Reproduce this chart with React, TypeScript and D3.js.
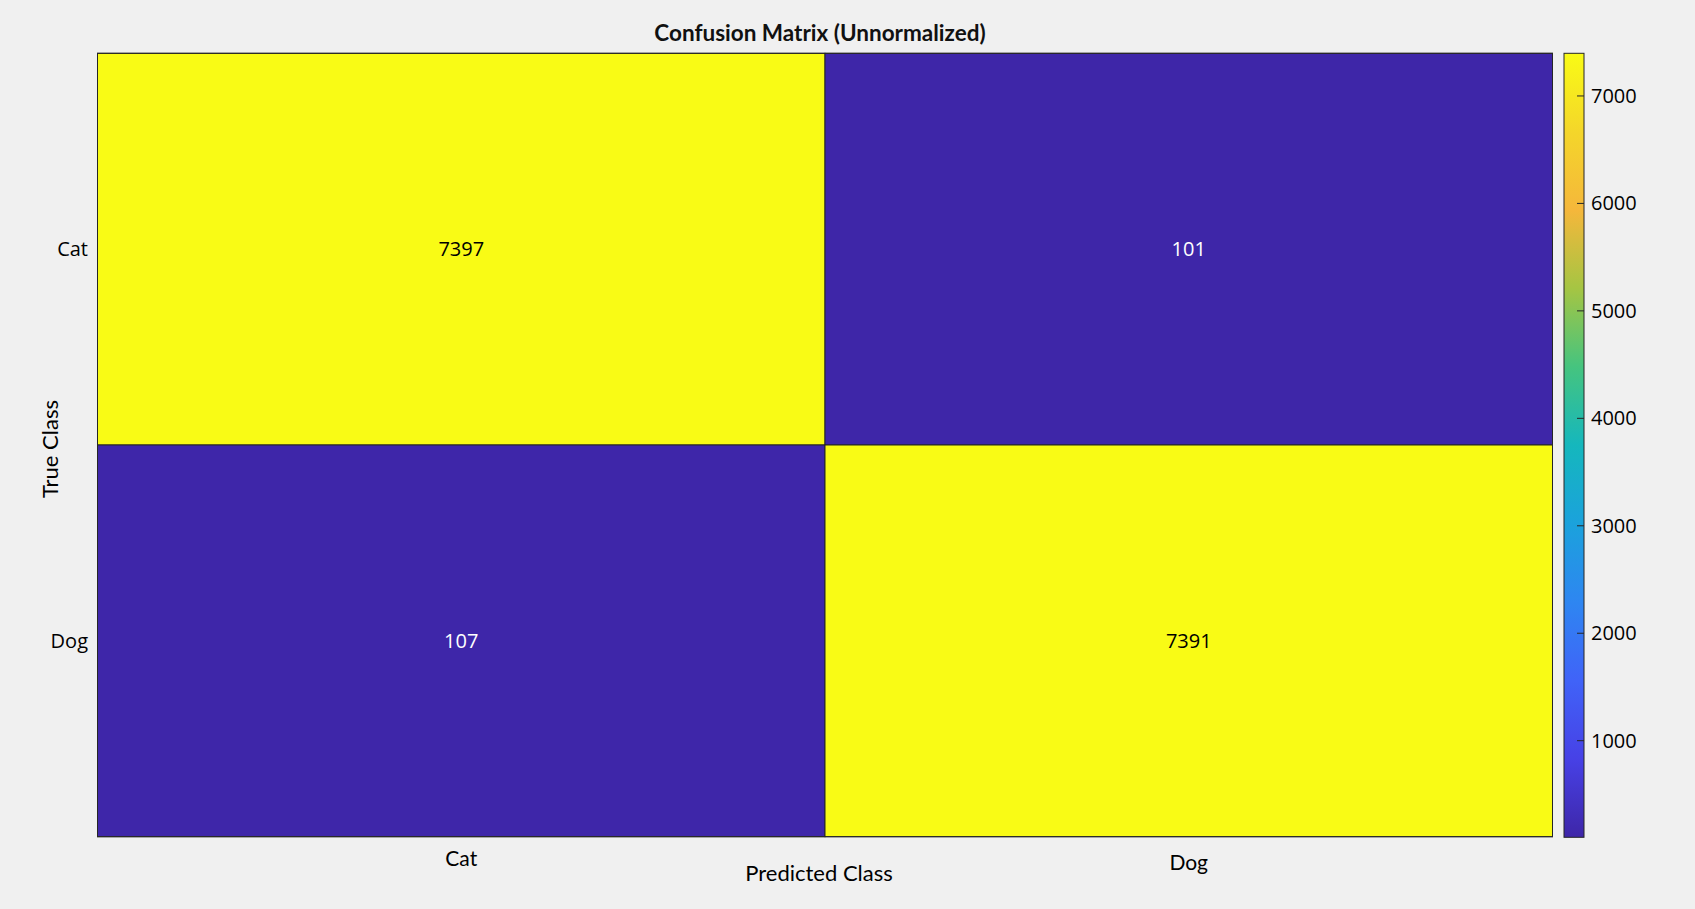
import * as d3 from "d3";

const predictedClasses = ["Cat", "Dog"];
const trueClasses = ["Cat", "Dog"];
// rows = true class, columns = predicted class
const countsCat = [7397, 101];
const countsDog = [107, 7391];
const colorbarTicks = [1000, 2000, 3000, 4000, 5000, 6000, 7000];

// parula-like colour stops
const parulaStops = [0, 0.1, 0.2, 0.3, 0.4, 0.5, 0.6, 0.7, 0.8, 0.9, 1];
const parulaColors = [
  "#3e26a8", "#4741e6", "#4063f8", "#2e86f1", "#1ba2dc", "#15b7bd",
  "#45c47f", "#a5c543", "#f5b73b", "#f4d62a", "#f9fb15",
];

const W = 1695;
const H = 909;
const plot = { left: 97.5, right: 1552.5, top: 53.3, bottom: 836.7 };
const cbar = { left: 1564, right: 1584, top: 53.3, bottom: 837.3 };

const numFont = "'Open Sans', 'Noto Sans', sans-serif";
const labelFont = "Lato, 'Open Sans', sans-serif";

export default function App() {
  const matrix = [countsCat, countsDog];
  const all = matrix.flat();
  const vmin = d3.min(all) ?? 0;
  const vmax = d3.max(all) ?? 1;

  const x = d3.scaleBand<string>().domain(predictedClasses).range([plot.left, plot.right]);
  const y = d3.scaleBand<string>().domain(trueClasses).range([plot.top, plot.bottom]);
  const t = d3.scaleLinear().domain([vmin, vmax]).range([0, 1]);
  const parula = d3.scaleLinear<string>().domain(parulaStops).range(parulaColors).interpolate(d3.interpolateRgb);
  const color = (v: number) => parula(t(v));
  const cy = d3.scaleLinear().domain([vmin, vmax]).range([cbar.bottom, cbar.top]);

  const cells = trueClasses.flatMap((tc, i) =>
    predictedClasses.map((pc, j) => ({ tc, pc, v: matrix[i][j] }))
  );

  return (
    <div style={{ position: "fixed", left: 0, top: 0 }}>
      <svg width={W} height={H} style={{ display: "block" }}>
        <defs>
          <linearGradient id="parula" x1="0" y1="1" x2="0" y2="0">
            {parulaStops.map((s, i) => (
              <stop key={i} offset={s} stopColor={parulaColors[i]} />
            ))}
          </linearGradient>
        </defs>
        <rect x={0} y={0} width={W} height={H} fill="#f0f0f0" />

        {/* title */}
        <text x={820} y={41} textAnchor="middle" fontFamily={labelFont} fontWeight={700} fontSize={22.5} fill="#111">
          Confusion Matrix (Unnormalized)
        </text>

        {/* cells */}
        {cells.map((c) => {
          const bg = color(c.v);
          const dark = t(c.v) > 0.5;
          return (
            <g key={c.tc + c.pc}>
              <rect
                x={x(c.pc)}
                y={y(c.tc)}
                width={x.bandwidth()}
                height={y.bandwidth()}
                fill={bg}
                stroke="#262626"
                strokeWidth={1}
              />
              <text
                x={(x(c.pc) ?? 0) + x.bandwidth() / 2}
                y={(y(c.tc) ?? 0) + y.bandwidth() / 2 + 7}
                textAnchor="middle"
                fontFamily={numFont}
                fontSize={20}
                fill={dark ? "#000" : "#fff"}
              >
                {c.v}
              </text>
            </g>
          );
        })}
        <rect
          x={plot.left}
          y={plot.top}
          width={plot.right - plot.left}
          height={plot.bottom - plot.top}
          fill="none"
          stroke="#262626"
          strokeWidth={1}
        />

        {/* y tick labels */}
        {trueClasses.map((tc) => (
          <text
            key={tc}
            x={88}
            y={(y(tc) ?? 0) + y.bandwidth() / 2 + 7}
            textAnchor="end"
            fontFamily={numFont}
            fontSize={20}
            fill="#000"
          >
            {tc}
          </text>
        ))}
        <text
          transform={`translate(58,${(plot.top + plot.bottom) / 2 + 4}) rotate(-90)`}
          textAnchor="middle"
          fontFamily={labelFont}
          fontSize={22}
          fill="#000"
        >
          True Class
        </text>

        {/* x tick labels */}
        {predictedClasses.map((pc, i) => (
          <text
            key={pc}
            x={(x(pc) ?? 0) + x.bandwidth() / 2}
            y={866 + i * 4}
            textAnchor="middle"
            fontFamily={labelFont}
            fontSize={21}
            fill="#000"
          >
            {pc}
          </text>
        ))}
        <text x={819} y={881} textAnchor="middle" fontFamily={labelFont} fontSize={22} fill="#000">
          Predicted Class
        </text>

        {/* colorbar */}
        <rect
          x={cbar.left}
          y={cbar.top}
          width={cbar.right - cbar.left}
          height={cbar.bottom - cbar.top}
          fill="url(#parula)"
          stroke="#262626"
          strokeWidth={1}
        />
        {colorbarTicks.map((v) => (
          <g key={v} transform={`translate(0,${cy(v)})`}>
            <line x1={cbar.right - 7} x2={cbar.right} y1={0} y2={0} stroke="#262626" strokeWidth={1} />
            <text x={1591} y={7} fontFamily={numFont} fontSize={20} fill="#000">
              {v}
            </text>
          </g>
        ))}
      </svg>
    </div>
  );
}
